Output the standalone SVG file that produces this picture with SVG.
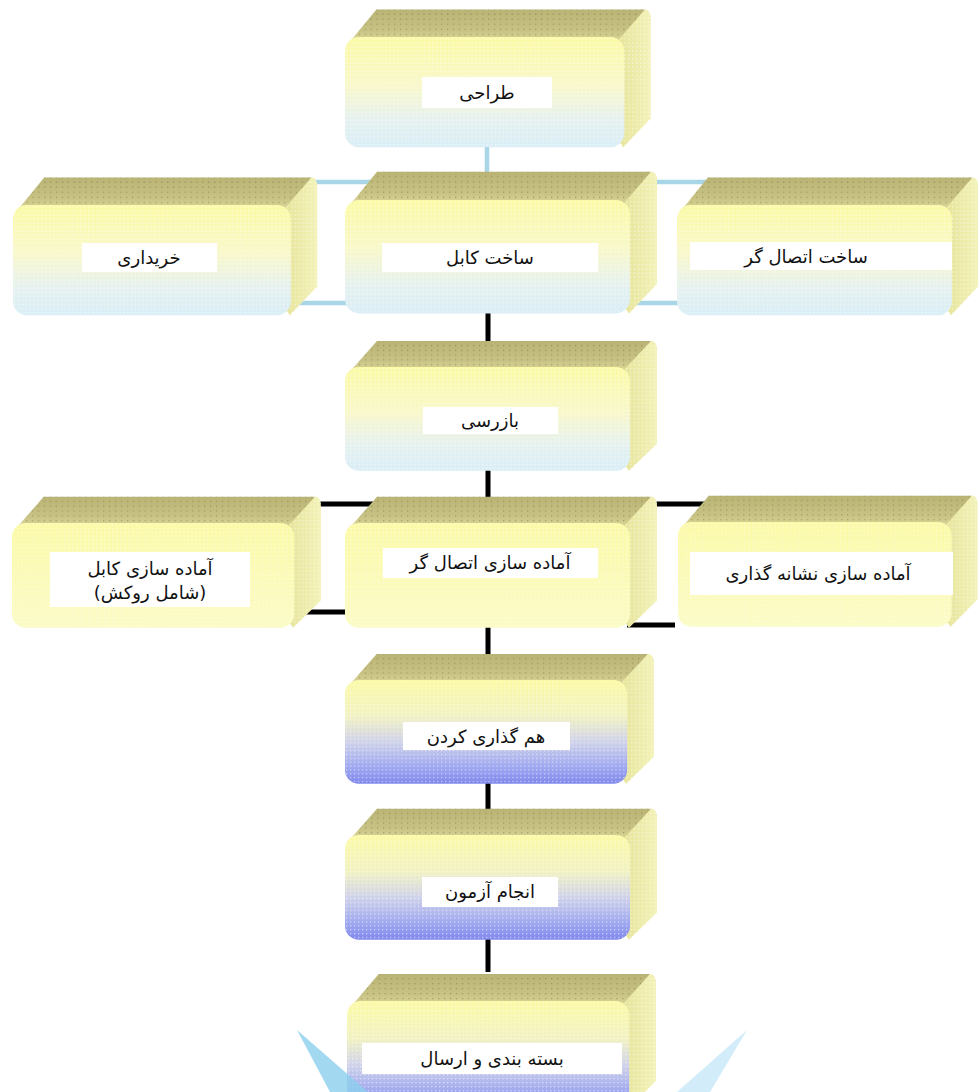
<svg xmlns="http://www.w3.org/2000/svg" xmlns:xlink="http://www.w3.org/1999/xlink" width="979" height="1092" viewBox="0 0 979 1092">
  <style>
    .lbl-bg { fill: #ffffff; }
    .lbl { font-family: "DejaVu Sans", "Noto Sans", sans-serif; font-size: 18px; fill: #111111; text-anchor: middle; }
    .wire-light { stroke: #a9d6e6; stroke-width: 4.5; fill: none; }
    .wire-dark { stroke: #000000; stroke-width: 5; fill: none; }
  </style>
  <defs>
    <!-- face shading -->
    <linearGradient id="g-top" x1="0" y1="0" x2="0" y2="1">
      <stop offset="0" stop-color="#b9b474"/>
      <stop offset="0.6" stop-color="#c9c486"/>
      <stop offset="1" stop-color="#e2df9e"/>
    </linearGradient>
    <linearGradient id="g-side" x1="0" y1="0" x2="1" y2="0">
      <stop offset="0" stop-color="#e6e49a"/>
      <stop offset="1" stop-color="#f3f2b8"/>
    </linearGradient>
    <linearGradient id="g-sky" x1="0" y1="0" x2="0" y2="1">
      <stop offset="0" stop-color="#fbfaa6"/>
      <stop offset="0.45" stop-color="#f8f8cc"/>
      <stop offset="0.75" stop-color="#e6f1ef"/>
      <stop offset="1" stop-color="#d9eef6"/>
    </linearGradient>
    <linearGradient id="g-sun" x1="0" y1="0" x2="0" y2="1">
      <stop offset="0" stop-color="#fbfaa8"/>
      <stop offset="1" stop-color="#fbfbc6"/>
    </linearGradient>
    <linearGradient id="g-dusk" x1="0" y1="0" x2="0" y2="1">
      <stop offset="0" stop-color="#fbfaa6"/>
      <stop offset="0.35" stop-color="#f2f2c4"/>
      <stop offset="0.6" stop-color="#cfd2ea"/>
      <stop offset="0.85" stop-color="#9da6f0"/>
      <stop offset="1" stop-color="#8088ec"/>
    </linearGradient>
    <!-- halftone texture -->
    <pattern id="dots-light" width="4" height="4" patternUnits="userSpaceOnUse">
      <rect x="1" y="1" width="1.3" height="1.3" fill="#ffffff" opacity="0.55"/>
    </pattern>
    <pattern id="dots-dark" width="6" height="5" patternUnits="userSpaceOnUse">
      <rect x="2" y="2" width="1.3" height="1.3" fill="#6f6a38" opacity="0.45"/>
    </pattern>
    <!-- extruded block, front face at 0,0 sized 285x108 -->
    <path id="top-face" d="M2,8 L32,-27 L306,-27 L312,-20 L284,8 Z"/>
    <path id="side-face" d="M278,4 L306,-27 Q312,-27 312,-18 L312,80 L284,108 L278,100 Z"/>
    <rect id="front-face" x="0" y="0" width="285" height="108" rx="14"/>
  </defs>

  <!-- connectors -->
  <g id="connectors">
    <line class="wire-light" x1="487" y1="145" x2="487" y2="183"/>
    <line class="wire-light" x1="305" y1="182" x2="706" y2="182"/>
    <line class="wire-light" x1="290" y1="303" x2="682" y2="303"/>
    <line class="wire-dark" x1="488" y1="312" x2="488" y2="343"/>
    <line class="wire-dark" x1="488" y1="468" x2="488" y2="500"/>
    <line class="wire-dark" x1="312" y1="504" x2="710" y2="504"/>
    <line class="wire-dark" x1="295" y1="612" x2="348" y2="612"/>
    <line class="wire-dark" x1="627" y1="625" x2="675" y2="625"/>
    <line class="wire-dark" x1="488" y1="626" x2="488" y2="657"/>
    <line class="wire-dark" x1="488" y1="781" x2="488" y2="813"/>
    <line class="wire-dark" x1="488" y1="937" x2="488" y2="972"/>
  </g>

  <g id="node-design">
    <g transform="translate(345,37) scale(0.98,1.02)">
      <use href="#top-face" fill="url(#g-top)"/><use href="#top-face" fill="url(#dots-dark)"/>
      <use href="#side-face" fill="url(#g-side)"/><use href="#side-face" fill="url(#dots-light)"/>
      <use href="#front-face" fill="url(#g-sky)"/><use href="#front-face" fill="url(#dots-light)"/>
    </g>
    <rect class="lbl-bg" x="422" y="77" width="130" height="31"/>
    <text class="lbl" x="487" y="99">طراحی</text>
  </g>

  <g id="node-purchase">
    <g transform="translate(13,205) scale(0.975,1.02)">
      <use href="#top-face" fill="url(#g-top)"/><use href="#top-face" fill="url(#dots-dark)"/>
      <use href="#side-face" fill="url(#g-side)"/><use href="#side-face" fill="url(#dots-light)"/>
      <use href="#front-face" fill="url(#g-sky)"/><use href="#front-face" fill="url(#dots-light)"/>
    </g>
    <rect class="lbl-bg" x="82" y="243" width="135" height="29"/>
    <text class="lbl" x="149" y="264">خریداری</text>
  </g>

  <g id="node-cable">
    <g transform="translate(345,200) scale(1,1.05)">
      <use href="#top-face" fill="url(#g-top)"/><use href="#top-face" fill="url(#dots-dark)"/>
      <use href="#side-face" fill="url(#g-side)"/><use href="#side-face" fill="url(#dots-light)"/>
      <use href="#front-face" fill="url(#g-sky)"/><use href="#front-face" fill="url(#dots-light)"/>
    </g>
    <rect class="lbl-bg" x="382" y="243" width="216" height="29"/>
    <text class="lbl" x="490" y="264">ساخت کابل</text>
  </g>

  <g id="node-connector">
    <g transform="translate(677,205) scale(0.965,1.02)">
      <use href="#top-face" fill="url(#g-top)"/><use href="#top-face" fill="url(#dots-dark)"/>
      <use href="#side-face" fill="url(#g-side)"/><use href="#side-face" fill="url(#dots-light)"/>
      <use href="#front-face" fill="url(#g-sky)"/><use href="#front-face" fill="url(#dots-light)"/>
    </g>
    <rect class="lbl-bg" x="690" y="242" width="262" height="28"/>
    <text class="lbl" x="806" y="263">ساخت اتصال گر</text>
  </g>

  <g id="node-inspection">
    <g transform="translate(345,367) scale(1,0.96)">
      <use href="#top-face" fill="url(#g-top)"/><use href="#top-face" fill="url(#dots-dark)"/>
      <use href="#side-face" fill="url(#g-side)"/><use href="#side-face" fill="url(#dots-light)"/>
      <use href="#front-face" fill="url(#g-sky)"/><use href="#front-face" fill="url(#dots-light)"/>
    </g>
    <rect class="lbl-bg" x="423" y="407" width="135" height="27"/>
    <text class="lbl" x="490" y="427">بازرسی</text>
  </g>

  <g id="node-cable-prep">
    <g transform="translate(12,523) scale(0.99,0.97)">
      <use href="#top-face" fill="url(#g-top)"/><use href="#top-face" fill="url(#dots-dark)"/>
      <use href="#side-face" fill="url(#g-side)"/><use href="#side-face" fill="url(#dots-light)"/>
      <use href="#front-face" fill="url(#g-sun)"/><use href="#front-face" fill="url(#dots-light)"/>
    </g>
    <rect class="lbl-bg" x="50" y="552" width="200" height="55"/>
    <text class="lbl" x="150" y="575">آماده سازی کابل</text>
    <text class="lbl" x="150" y="599">(شامل روکش)</text>
  </g>

  <g id="node-connector-prep">
    <g transform="translate(345,523) scale(1,0.97)">
      <use href="#top-face" fill="url(#g-top)"/><use href="#top-face" fill="url(#dots-dark)"/>
      <use href="#side-face" fill="url(#g-side)"/><use href="#side-face" fill="url(#dots-light)"/>
      <use href="#front-face" fill="url(#g-sun)"/><use href="#front-face" fill="url(#dots-light)"/>
    </g>
    <rect class="lbl-bg" x="383" y="548" width="215" height="30"/>
    <text class="lbl" x="490" y="569">آماده سازی اتصال گر</text>
  </g>

  <g id="node-marking-prep">
    <g transform="translate(678,522) scale(0.96,0.97)">
      <use href="#top-face" fill="url(#g-top)"/><use href="#top-face" fill="url(#dots-dark)"/>
      <use href="#side-face" fill="url(#g-side)"/><use href="#side-face" fill="url(#dots-light)"/>
      <use href="#front-face" fill="url(#g-sun)"/><use href="#front-face" fill="url(#dots-light)"/>
    </g>
    <rect class="lbl-bg" x="690" y="552" width="263" height="43"/>
    <text class="lbl" x="818" y="580">آماده سازی نشانه گذاری</text>
  </g>

  <g id="node-assembly">
    <g transform="translate(345,680) scale(0.99,0.96)">
      <use href="#top-face" fill="url(#g-top)"/><use href="#top-face" fill="url(#dots-dark)"/>
      <use href="#side-face" fill="url(#g-side)"/><use href="#side-face" fill="url(#dots-light)"/>
      <use href="#front-face" fill="url(#g-dusk)"/><use href="#front-face" fill="url(#dots-light)"/>
    </g>
    <rect class="lbl-bg" x="403" y="722" width="167" height="28"/>
    <text class="lbl" x="486" y="743">هم گذاری کردن</text>
  </g>

  <g id="node-testing">
    <g transform="translate(345,835) scale(1,0.97)">
      <use href="#top-face" fill="url(#g-top)"/><use href="#top-face" fill="url(#dots-dark)"/>
      <use href="#side-face" fill="url(#g-side)"/><use href="#side-face" fill="url(#dots-light)"/>
      <use href="#front-face" fill="url(#g-dusk)"/><use href="#front-face" fill="url(#dots-light)"/>
    </g>
    <rect class="lbl-bg" x="422" y="877" width="136" height="30"/>
    <text class="lbl" x="490" y="898">انجام آزمون</text>
  </g>

  <g id="node-shipping">
    <g transform="translate(347,1001) scale(0.99,1)">
      <use href="#top-face" fill="url(#g-top)"/><use href="#top-face" fill="url(#dots-dark)"/>
      <use href="#side-face" fill="url(#g-side)"/><use href="#side-face" fill="url(#dots-light)"/>
      <use href="#front-face" fill="url(#g-dusk)"/><use href="#front-face" fill="url(#dots-light)"/>
    </g>
    <rect class="lbl-bg" x="362" y="1043" width="260" height="31"/>
    <text class="lbl" x="492" y="1065">بسته بندی و ارسال</text>
  </g>

  <!-- light-blue rays at the foot of the chart -->
  <polygon points="297,1030 330,1092 368,1092" fill="#8ccfec" opacity="0.8"/>
  <polygon points="747,1030 677,1092 710,1092" fill="#d2ecf9"/>
</svg>
